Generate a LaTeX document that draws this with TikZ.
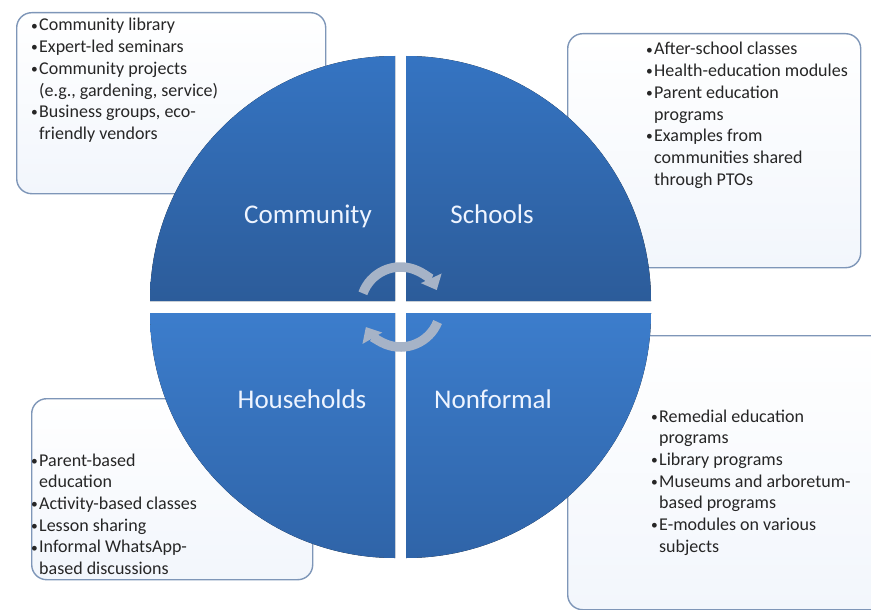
\documentclass[tikz,border=0pt]{standalone}
\usepackage{fontspec}
\setmainfont{Carlito}
\usetikzlibrary{arrows.meta}
\definecolor{boxline}{HTML}{7E96B8}
\definecolor{boxfill}{HTML}{F2F6FC}
\definecolor{quadTopA}{HTML}{3574C2}
\definecolor{quadTopB}{HTML}{2C5C9A}
\definecolor{quadBotA}{HTML}{3C7DCC}
\definecolor{quadBotB}{HTML}{2F64A8}
\definecolor{labeltext}{HTML}{EEF4FF}
\definecolor{listcol}{HTML}{262626}
\definecolor{cyclearrow}{HTML}{A6B3C7}
\newcommand{\bitem}{\makebox[8pt][l]{\raisebox{0.8pt}{\fontsize{13.5}{13.5}\selectfont\textbullet}}}
\newcommand{\bcont}{\hspace*{8pt}}
\begin{document}
\begin{tikzpicture}[x=1pt,y=-1pt,
  infobox/.style={draw=boxline, line width=1.4pt, rounded corners=15pt,
    top color=white, bottom color=boxfill, anchor=north west, inner sep=0pt},
  listtext/.style={anchor=base west, inner sep=0pt, text=listcol,
    font=\fontsize{18}{21.7}\selectfont},
  topquad/.style={top color=quadTopA, bottom color=quadTopB},
  botquad/.style={top color=quadBotA, bottom color=quadBotB},
  quadlabel/.style={anchor=base, inner sep=0pt, text=labeltext,
    font=\fontsize{27}{32}\selectfont},
  cyc/.style={draw=cyclearrow, line width=9.5pt,
    -{Triangle[width=22pt,length=13pt]}}
]
\useasboundingbox (0,0) rectangle (871,610);

% text boxes (behind the circle)
\node[infobox, minimum width=309pt, minimum height=181pt] (boxCommunity) at (16,12) {};
\node[infobox, minimum width=293pt, minimum height=234pt] (boxSchools) at (567,33) {};
\node[infobox, minimum width=281pt, minimum height=181pt] (boxHouseholds) at (31,398) {};
\begin{scope}
  \clip (0,0) rectangle (871,610);
  \node[infobox, minimum width=330pt, minimum height=274pt] (boxNonformal) at (567,335) {};
\end{scope}

% quadrants
\fill[topquad] (395,301) -- (150,301) arc[start angle=180, end angle=270, radius=245] -- cycle;
\fill[topquad] (406,301) -- (406,56) arc[start angle=270, end angle=360, radius=245] -- cycle;
\fill[botquad] (395,313) -- (150,313) arc[start angle=180, end angle=90, radius=245] -- cycle;
\fill[botquad] (406,313) -- (651,313) arc[start angle=0, end angle=90, radius=245] -- cycle;

% quadrant labels
\node[quadlabel] (lblCommunity) at (308,223) {Community};
\node[quadlabel] (lblSchools) at (492,223) {Schools};
\node[quadlabel] (lblHouseholds) at (302,408) {Households};
\node[quadlabel] (lblNonformal) at (493,408) {Nonformal};

% cycle arrows
\coordinate (cyc) at (400.5,307);
\draw[cyc] (cyc) ++(200:40) arc[start angle=200, end angle=335, radius=40];
\draw[cyc] (cyc) ++(22:40) arc[start angle=22, end angle=150, radius=40];

% lists
\node[listtext] (txtCommunity) at (31,31) {\begin{tabular}[t]{@{}l@{}}
\bitem Community library\\
\bitem Expert-led seminars\\
\bitem Community projects\\
\bcont (e.g., gardening, service)\\
\bitem Business groups, eco-\\
\bcont friendly vendors
\end{tabular}};

\node[listtext] (txtSchools) at (646,55) {\begin{tabular}[t]{@{}l@{}}
\bitem After-school classes\\
\bitem Health-education modules\\
\bitem Parent education\\
\bcont programs\\
\bitem Examples from\\
\bcont communities shared\\
\bcont through PTOs
\end{tabular}};

\node[listtext] (txtHouseholds) at (31,466) {\begin{tabular}[t]{@{}l@{}}
\bitem Parent-based\\
\bcont education\\
\bitem Activity-based classes\\
\bitem Lesson sharing\\
\bitem Informal WhatsApp-\\
\bcont based discussions
\end{tabular}};

\node[listtext] (txtNonformal) at (651,422) {\begin{tabular}[t]{@{}l@{}}
\bitem Remedial education\\
\bcont programs\\
\bitem Library programs\\
\bitem Museums and arboretum-\\
\bcont based programs\\
\bitem E-modules on various\\
\bcont subjects
\end{tabular}};
\end{tikzpicture}
\end{document}
